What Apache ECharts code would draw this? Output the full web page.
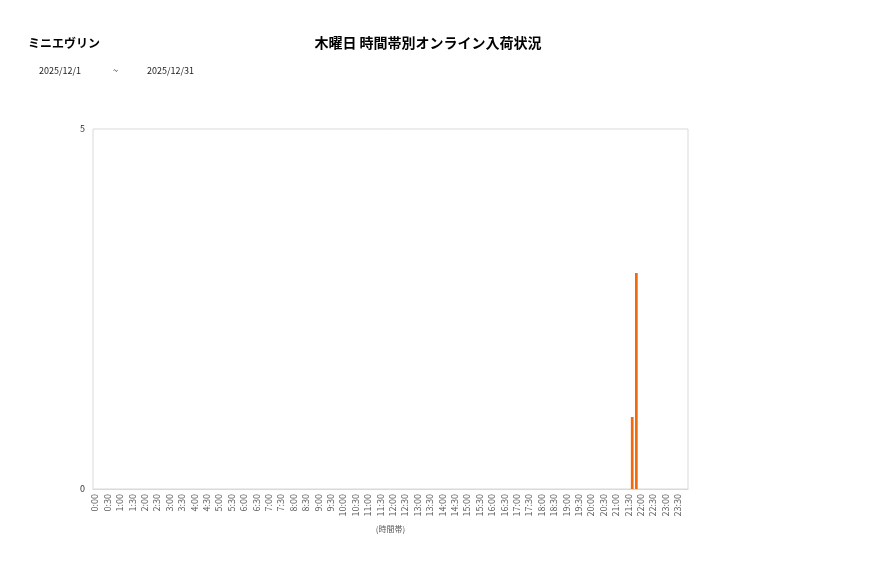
<!DOCTYPE html>
<html><head><meta charset="utf-8">
<script src="https://cdn.jsdelivr.net/npm/echarts@6/dist/echarts.min.js"></script>
<style>html,body{margin:0;padding:0;background:#fff}#c{width:877px;height:578px}</style>
</head><body><div id="c"></div>
<script>
var shopName = "ミニエヴリン";
var chartTitle = "木曜日 時間帯別オンライン入荷状況";
var dateFrom = "2025/12/1";
var dateTo = "2025/12/31";
var axisName = "(時間帯)";
var categories = [
"0:00","0:10","0:20","0:30","0:40","0:50","1:00","1:10","1:20","1:30","1:40","1:50",
"2:00","2:10","2:20","2:30","2:40","2:50","3:00","3:10","3:20","3:30","3:40","3:50",
"4:00","4:10","4:20","4:30","4:40","4:50","5:00","5:10","5:20","5:30","5:40","5:50",
"6:00","6:10","6:20","6:30","6:40","6:50","7:00","7:10","7:20","7:30","7:40","7:50",
"8:00","8:10","8:20","8:30","8:40","8:50","9:00","9:10","9:20","9:30","9:40","9:50",
"10:00","10:10","10:20","10:30","10:40","10:50","11:00","11:10","11:20","11:30","11:40","11:50",
"12:00","12:10","12:20","12:30","12:40","12:50","13:00","13:10","13:20","13:30","13:40","13:50",
"14:00","14:10","14:20","14:30","14:40","14:50","15:00","15:10","15:20","15:30","15:40","15:50",
"16:00","16:10","16:20","16:30","16:40","16:50","17:00","17:10","17:20","17:30","17:40","17:50",
"18:00","18:10","18:20","18:30","18:40","18:50","19:00","19:10","19:20","19:30","19:40","19:50",
"20:00","20:10","20:20","20:30","20:40","20:50","21:00","21:10","21:20","21:30","21:40","21:50",
"22:00","22:10","22:20","22:30","22:40","22:50","23:00","23:10","23:20","23:30","23:40","23:50"
];
var values = [
0,0,0,0,0,0,0,0,0,0,0,0,
0,0,0,0,0,0,0,0,0,0,0,0,
0,0,0,0,0,0,0,0,0,0,0,0,
0,0,0,0,0,0,0,0,0,0,0,0,
0,0,0,0,0,0,0,0,0,0,0,0,
0,0,0,0,0,0,0,0,0,0,0,0,
0,0,0,0,0,0,0,0,0,0,0,0,
0,0,0,0,0,0,0,0,0,0,0,0,
0,0,0,0,0,0,0,0,0,0,0,0,
0,0,0,0,0,0,0,0,0,0,0,0,
0,0,0,0,0,0,0,0,0,0,1,3,
0,0,0,0,0,0,0,0,0,0,0,0
];
var yTicks = [0, 5];

var chart = echarts.init(document.getElementById('c'));
var ff = '"Noto Sans CJK JP","Noto Sans",sans-serif';
chart.setOption({
  animation: false,
  textStyle: {fontFamily: ff},
  title: [
    {text: chartTitle, left: 423, top: 31, textAlign: 'center',
     textStyle: {fontSize: 14, fontWeight: 'bold', color: '#000', fontFamily: ff}},
    {text: shopName, left: 23, top: 32,
     textStyle: {fontSize: 12, fontWeight: 'bold', color: '#000', fontFamily: ff}},
    {text: dateFrom, left: 34, top: 61, textStyle: {fontSize: 9, fontWeight: 'normal', color: '#222', fontFamily: ff}},
    {text: '~', left: 108, top: 61, textStyle: {fontSize: 9, fontWeight: 'normal', color: '#222', fontFamily: ff}},
    {text: dateTo, left: 142, top: 61, textStyle: {fontSize: 9, fontWeight: 'normal', color: '#222', fontFamily: ff}}
  ],
  grid: {left: 93, top: 129, width: 595, height: 360, show: true, borderColor: '#d9d9d9', borderWidth: 1, containLabel: false},
  xAxis: {
    type: 'category', data: categories, boundaryGap: true,
    name: axisName, nameLocation: 'middle', nameGap: 36,
    nameTextStyle: {fontSize: 8, color: '#595959'},
    axisLine: {show: true, lineStyle: {color: '#d9d9d9'}},
    axisTick: {show: false},
    axisLabel: {interval: 2, rotate: 90, fontSize: 9, color: '#595959', margin: 5},
    splitLine: {show: false}
  },
  yAxis: {
    type: 'value', min: yTicks[0], max: yTicks[1], interval: yTicks[1] - yTicks[0],
    axisLine: {show: false}, axisTick: {show: false},
    axisLabel: {fontSize: 9, color: '#333', margin: 8},
    splitLine: {show: false}
  },
  series: [{
    type: 'bar', data: values, barWidth: '66%',
    itemStyle: {color: '#f26a10'}
  }]
});
</script></body></html>
